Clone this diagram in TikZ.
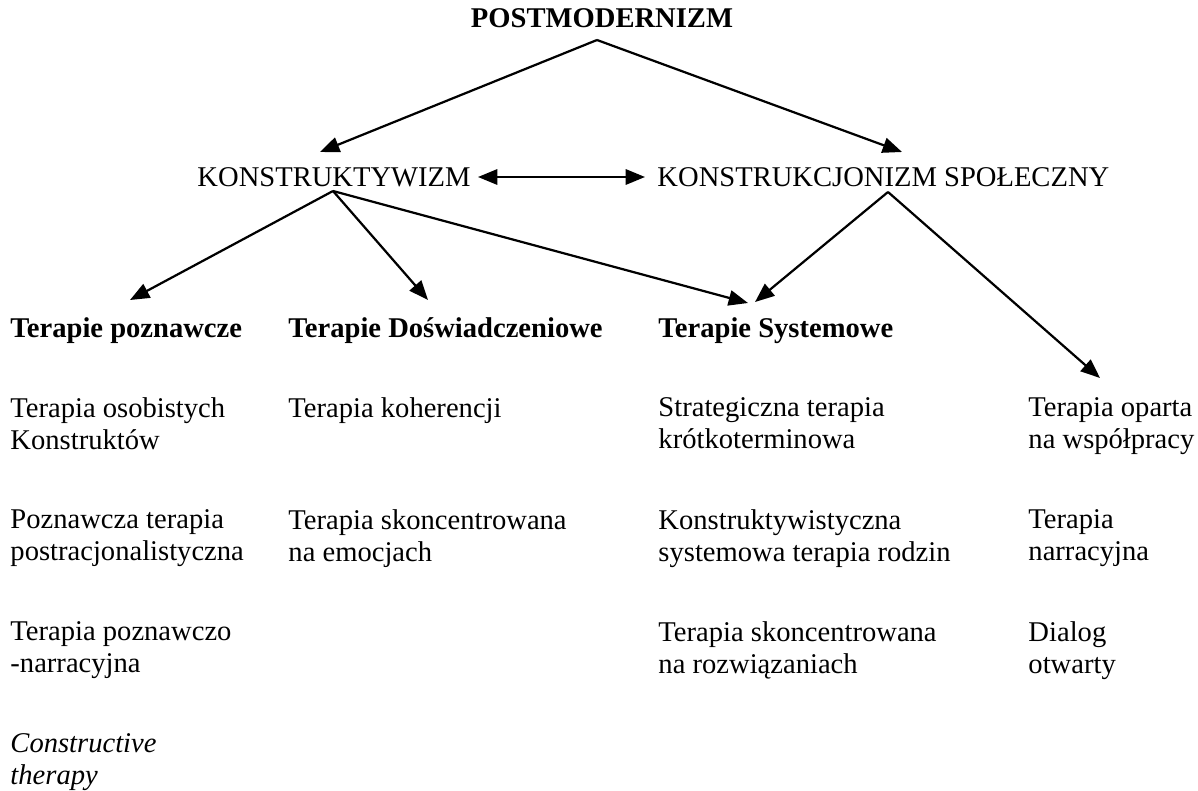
\documentclass[tikz,border=0pt]{standalone}
\usepackage{fontspec}
\setmainfont{Liberation Serif}
\usepackage{tikz}
\usetikzlibrary{arrows.meta,positioning}

\begin{document}
\begin{tikzpicture}[x=0.015cm,y=-0.015cm,
  txt/.style={anchor=north west,inner sep=0pt,align=left,font=\fontsize{12.2}{13.6}\selectfont},
  head/.style={txt,anchor=base west,font=\fontsize{12.2}{13.6}\selectfont\bfseries},
  arr/.style={-{Triangle[length=0.29cm,width=0.23cm]},line width=0.95pt}]
\useasboundingbox (0,0) rectangle (1198,790);
% \draw[help lines] (0,0) grid (1198,790);
\node (pm) [head,anchor=base] at (602,28) {POSTMODERNIZM};
\node (kw) [txt,anchor=base west] at (197,186) {KONSTRUKTYWIZM};
\node (ks) [txt,anchor=base west] at (657,186) {KONSTRUKCJONIZM SPOŁECZNY};
%
\node (tpoz) [head] at (10,337) {Terapie poznawcze};
\node (tdos) [head] at (288,337) {Terapie Doświadczeniowe};
\node (tsys) [head] at (658,337) {Terapie Systemowe};
%
\node (poz1) [txt] at (10,397) {Terapia osobistych\\Konstruktów};
\node (poz2) [txt] at (10,509) {Poznawcza terapia\\postracjonalistyczna};
\node (poz3) [txt] at (10,621) {Terapia poznawczo\\-narracyjna};
\node (poz4) [txt,font=\fontsize{12.2}{13.6}\selectfont\itshape] at (10,733) {Constructive\\therapy};
\node (dos1) [txt] at (288,397) {Terapia koherencji};
\node (dos2) [txt] at (288,509) {Terapia skoncentrowana\\na emocjach};
\node (sys1) [txt] at (658,397) {Strategiczna terapia\\krótkoterminowa};
\node (sys2) [txt] at (658,509) {Konstruktywistyczna\\systemowa terapia rodzin};
\node (sys3) [txt] at (658,621) {Terapia skoncentrowana\\na rozwiązaniach};
\node (wsp1) [txt] at (1028,397) {Terapia oparta\\na współpracy};
\node (wsp2) [txt] at (1028,509) {Terapia\\narracyjna};
\node (wsp3) [txt] at (1028,621) {Dialog\\otwarty};
%
\coordinate (pm-out) at (597,40);
\coordinate (kw-in) at (320,152);
\coordinate (ks-in) at (902,152);
\coordinate (kw-r) at (478,177);
\coordinate (ks-l) at (645,177);
\coordinate (kw-out) at (333,191);
\coordinate (ks-out) at (888,192);
\coordinate (tpoz-in) at (130,300);
\coordinate (tdos-in) at (428,300);
\coordinate (tsys-in1) at (748,303);
\coordinate (tsys-in2) at (755,302);
\coordinate (wsp-in) at (1100,378);
%
\path[arr] (pm-out) edge (kw-in);
\path[arr] (pm-out) edge (ks-in);
\path[arr,{Triangle[length=0.29cm,width=0.23cm]}-{Triangle[length=0.29cm,width=0.23cm]}] (kw-r) edge (ks-l);
\path[arr] (kw-out) edge (tpoz-in);
\path[arr] (kw-out) edge (tdos-in);
\path[arr] (kw-out) edge (tsys-in1);
\path[arr] (ks-out) edge (tsys-in2);
\path[arr] (ks-out) edge (wsp-in);
\end{tikzpicture}
\end{document}
